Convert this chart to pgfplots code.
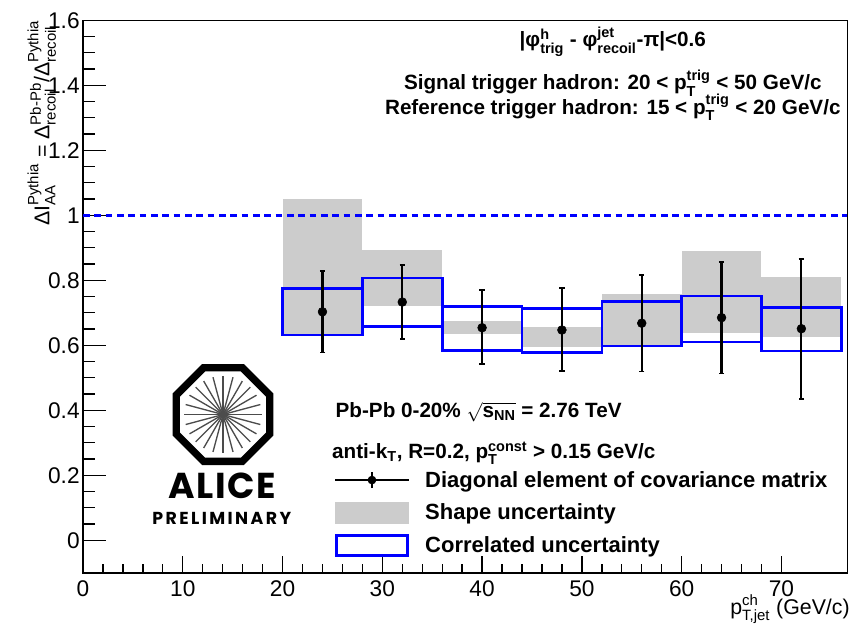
\documentclass[border=0pt]{standalone}
\usepackage{fontspec}
\setmainfont{Liberation Sans}
\newfontfamily\logofont{Poppins}
\usepackage{amsmath}
\usepackage{pgfplots}
\pgfplotsset{compat=1.18}
\definecolor{shapegray}{RGB}{204,204,204}

\begin{document}
\begin{tikzpicture}
\useasboundingbox (-62.25pt,-39.9pt) rectangle (576.75pt,429.6pt);
\begin{axis}[
  at={(0,0)}, anchor=south west,
  scale only axis, width=573.2pt, height=414.4pt,
  xmin=0, xmax=76.6, ymin=-0.1, ymax=1.6,
  axis line style={line width=1.1pt},
  xtick={0,10,...,70}, ytick={0,0.2,0.4,0.6,0.8,1,1.2,1.4,1.6},
  minor x tick num=4, minor y tick num=3,
  xtick pos=left, ytick pos=left,
  tick align=inside,
  major tick length=12.5pt, minor tick length=6.5pt,
  ytick style={/pgfplots/major tick length=17pt,/pgfplots/minor tick length=9pt},
  tick style={line width=1pt, black},
  tick label style={font=\fontsize{17}{17}\selectfont},
  xticklabel style={yshift=-2pt},
  yticklabel style={xshift=1pt},
  /pgf/number format/assume math mode=true,
  legend style={at={(axis cs:25.2,0.222)}, anchor=north west, draw=none, fill=none,
    inner sep=0pt, row sep=7pt, font=\bfseries\fontsize{16.5}{16.5}\selectfont,
    /tikz/every odd column/.append style={column sep=10pt}},
  legend cell align=left,
  clip=false,
]
% shape uncertainty (gray)
\addplot[fill=shapegray, draw=none, forget plot] coordinates {(20,0.632) (28,0.632) (28,1.049) (20,1.049)} -- cycle;
\addplot[fill=shapegray, draw=none, forget plot] coordinates {(28,0.722) (36,0.722) (36,0.893) (28,0.893)} -- cycle;
\addplot[fill=shapegray, draw=none, forget plot] coordinates {(36,0.634) (44,0.634) (44,0.674) (36,0.674)} -- cycle;
\addplot[fill=shapegray, draw=none, forget plot] coordinates {(44,0.596) (52,0.596) (52,0.655) (44,0.655)} -- cycle;
\addplot[fill=shapegray, draw=none, forget plot] coordinates {(52,0.598) (60,0.598) (60,0.758) (52,0.758)} -- cycle;
\addplot[fill=shapegray, draw=none, forget plot] coordinates {(60,0.637) (68,0.637) (68,0.891) (60,0.891)} -- cycle;
\addplot[fill=shapegray, draw=none, forget plot] coordinates {(68,0.625) (76,0.625) (76,0.809) (68,0.809)} -- cycle;
% reference line
\addplot[blue, line width=2pt, dash pattern=on 5pt off 3.5pt, forget plot] coordinates {(0,1) (76.6,1)};
% correlated uncertainty (blue)
\addplot[draw=blue, line width=2pt, forget plot] coordinates {(20,0.632) (28,0.632) (28,0.774) (20,0.774)} -- cycle;
\addplot[draw=blue, line width=2pt, forget plot] coordinates {(28,0.657) (36,0.657) (36,0.807) (28,0.807)} -- cycle;
\addplot[draw=blue, line width=2pt, forget plot] coordinates {(36,0.584) (44,0.584) (44,0.720) (36,0.720)} -- cycle;
\addplot[draw=blue, line width=2pt, forget plot] coordinates {(44,0.578) (52,0.578) (52,0.714) (44,0.714)} -- cycle;
\addplot[draw=blue, line width=2pt, forget plot] coordinates {(52,0.598) (60,0.598) (60,0.734) (52,0.734)} -- cycle;
\addplot[draw=blue, line width=2pt, forget plot] coordinates {(60,0.610) (68,0.610) (68,0.752) (60,0.752)} -- cycle;
\addplot[draw=blue, line width=2pt, forget plot] coordinates {(68,0.582) (76,0.582) (76,0.717) (68,0.717)} -- cycle;
% data points
\addplot[only marks, mark=*, mark size=3.3pt, black, forget plot,
  error bars/.cd, y dir=both, y explicit,
  error bar style={line width=1.6pt, black},
  error mark options={rotate=90, mark size=2pt, line width=1.2pt, black}]
  coordinates {
  (24,0.703) += (0,0.126) -= (0,0.125)
  (32,0.733) += (0,0.114) -= (0,0.114)
  (40,0.654) += (0,0.116) -= (0,0.112)
  (48,0.647) += (0,0.130) -= (0,0.126)
  (56,0.668) += (0,0.148) -= (0,0.149)
  (64,0.685) += (0,0.172) -= (0,0.172)
  (72,0.651) += (0,0.215) -= (0,0.216)
  };
% legend
\addlegendimage{legend image code/.code={
  \draw[line width=0.9pt] (0pt,0pt) -- (55pt,0pt);
  \draw[line width=1.4pt] (27.5pt,-6pt) -- (27.5pt,6pt);
  \fill (27.5pt,0pt) circle (3pt);}}
\addlegendentry{Diagonal element of covariance matrix}
\addlegendimage{legend image code/.code={
  \fill[shapegray] (0pt,-8pt) rectangle (55pt,8pt);}}
\addlegendentry{Shape uncertainty}
\addlegendimage{legend image code/.code={
  \draw[blue, line width=2pt] (1pt,-7.5pt) rectangle (54pt,7.5pt);}}
\addlegendentry{Correlated uncertainty}
% annotations
\node[anchor=base, font=\bfseries\fontsize{15.5}{15.5}\selectfont, inner sep=0pt] at (axis cs:53.1,1.518)
  {|φ$^{\text{h}}_{\text{trig}}$ - φ$^{\text{jet}}_{\text{recoil}}$-π|<0.6};
\node[anchor=base, font=\bfseries\fontsize{15.5}{15.5}\selectfont, inner sep=0pt] at (axis cs:53.1,1.386)
  {Signal trigger hadron: 20 < p$^{\text{trig}}_{\text{T}}$ < 50 GeV/c};
\node[anchor=base, font=\bfseries\fontsize{15.5}{15.5}\selectfont, inner sep=0pt] at (axis cs:53.1,1.310)
  {Reference trigger hadron: 15 < p$^{\text{trig}}_{\text{T}}$ < 20 GeV/c};
\node[anchor=base west, font=\bfseries\fontsize{15.5}{15.5}\selectfont, inner sep=0pt] at (axis cs:25.3,0.378)
  {Pb-Pb 0-20\% $\sqrt{\text{s}_{\text{NN}}}$ = 2.76 TeV};
\node[anchor=base west, font=\bfseries\fontsize{15.5}{15.5}\selectfont, inner sep=0pt] at (axis cs:24.95,0.252)
  {anti-k$_{\text{T}}$, R=0.2, p$^{\text{const}}_{\text{T}}$ > 0.15 GeV/c};
% axis labels
\node[anchor=base east, font=\fontsize{16}{16}\selectfont, inner sep=0pt] at ([xshift=2pt, yshift=-31pt]rel axis cs:1,0)
  {p$^{\text{ch}}_{\text{T,jet}}$ (GeV/c)};
\node[rotate=90, anchor=south east, font=\fontsize{16}{16}\selectfont, inner sep=0pt] at ([xshift=-20pt]rel axis cs:0,1)
  {ΔI$^{\text{Pythia}}_{\text{AA}}$ = Δ$^{\text{Pb-Pb}}_{\text{recoil}}$/Δ$^{\text{Pythia}}_{\text{recoil}}$};
\end{axis}
% ALICE logo
\begin{scope}[shift={(105pt,118.7pt)}]
  \foreach \a in {0,15,...,165} {
    \draw[line width=1pt, black!70] (\a:29pt) -- (\a+180:29pt);
  }
  \draw[line width=5.5pt, line join=miter]
    (22.5:38pt) -- (67.5:38pt) -- (112.5:38pt) -- (157.5:38pt) -- (202.5:38pt) -- (247.5:38pt) -- (292.5:38pt) -- (337.5:38pt) -- cycle;
\end{scope}
\node[font=\logofont\fontsize{27}{27}\selectfont\addfontfeature{LetterSpace=4}, inner sep=0pt, anchor=base] at (105pt,56pt) {\textbf{ALICE}};
\node[font=\logofont\fontsize{13}{13}\selectfont\addfontfeature{LetterSpace=14}, inner sep=0pt, anchor=base] at (105pt,36pt) {\textbf{PRELIMINARY}};
\end{tikzpicture}
\end{document}
